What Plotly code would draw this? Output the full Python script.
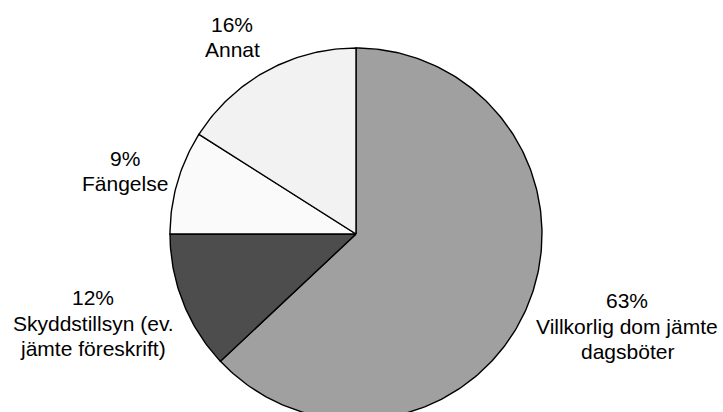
import numpy as np
import plotly.graph_objects as go

# Sentence categories and their shares (percent), clockwise from 12 o'clock
categories = [
    "Villkorlig dom jämte<br>dagsböter",
    "Skyddstillsyn (ev.<br>jämte föreskrift)",
    "Fängelse",
    "Annat",
]
shares = [63, 12, 9, 16]
colors = ["#a0a0a0", "#4d4d4d", "#fafafa", "#f2f2f2"]

# Pixel layout of the figure
W, H = 723, 412
CX, CY, R = 356, 234, 186
LINE_H = 25.7
FONT = dict(family="Liberation Sans, Arial, sans-serif", size=21, color="black")

# Label block centres (pixels)
label_pos = [(627, 326), (93, 323), (125, 171), (232, 37)]


def to_unit(px, py):
    return (px - CX) / R, (CY - py) / R


fig = go.Figure()

total = sum(shares)
start = 0.0
for name, val, col in zip(categories, shares, colors):
    sweep = val / total * 2 * np.pi
    n = max(int(val * 4), 8)
    th = np.linspace(start, start + sweep, n)
    xs = np.concatenate([[0], np.sin(th), [0]])
    ys = np.concatenate([[0], np.cos(th), [0]])
    fig.add_trace(go.Scatter(
        x=xs, y=ys, mode="lines", fill="toself", fillcolor=col,
        line=dict(color="black", width=1.4), hoverinfo="skip",
        showlegend=False,
    ))
    start += sweep

# Labels: percentage on the first line, category name below
for name, val, (px, py) in zip(categories, shares, label_pos):
    lines = [f"{val}%"] + name.split("<br>")
    n = len(lines)
    for i, line in enumerate(lines):
        ly = py + (i - (n - 1) / 2) * LINE_H
        ux, uy = to_unit(px, ly)
        fig.add_annotation(
            x=ux, y=uy, xref="x", yref="y", text=line,
            showarrow=False, xanchor="center", yanchor="middle", align="center",
            font=FONT,
        )

x0, _ = to_unit(0, 0)
x1, _ = to_unit(W, 0)
_, ytop = to_unit(0, 0)
_, ybot = to_unit(0, H)

fig.update_layout(
    width=W, height=H,
    margin=dict(l=0, r=0, t=0, b=0),
    paper_bgcolor="white", plot_bgcolor="white",
    xaxis=dict(range=[x0, x1], visible=False, fixedrange=True),
    yaxis=dict(range=[ybot, ytop], visible=False, fixedrange=True),
)

fig.write_html("out.html")
